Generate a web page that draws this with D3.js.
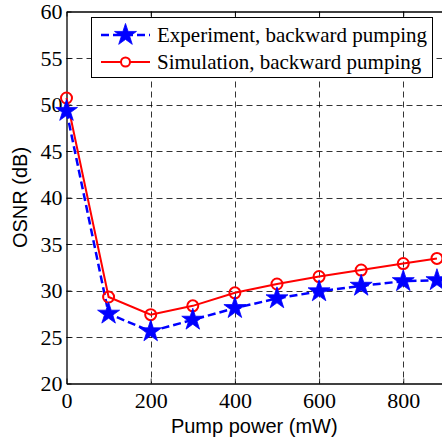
<!DOCTYPE html>
<html>
<head>
<meta charset="UTF-8">
<script src="https://cdn.jsdelivr.net/npm/d3@7"></script>
<style>
  body { margin: 0; background: #fff; }
</style>
</head>
<body>
<svg width="442" height="440"></svg>
<script>
// pump power (mW)
var power = [0, 100, 200, 300, 400, 500, 600, 700, 800, 880];
var experiment = [49.3, 27.5, 25.6, 26.85, 28.1, 29.15, 29.9, 30.5, 31.0, 31.1];
var simulation = [50.7, 29.3, 27.4, 28.35, 29.75, 30.7, 31.5, 32.2, 32.9, 33.45];
var xTicks = [0, 200, 400, 600, 800];
var yTicks = [20, 25, 30, 35, 40, 45, 50, 55, 60];

var svg = d3.select('svg');
var pLeft = 66.5, pTop = 11.5, pBottom = 383.5, pRight = 442;

var x = d3.scaleLinear().domain([0, 892]).range([pLeft, pRight]);
var y = d3.scaleLinear().domain([20, 60]).range([pBottom, pTop]);

// grid
var grid = svg.append('g').attr('stroke', '#000').attr('stroke-width', 0.8)
  .attr('stroke-dasharray', '6,4').attr('fill', 'none');
grid.selectAll('.gx').data(xTicks.slice(1)).enter().append('line')
  .attr('x1', d => Math.round(x(d)) + 0.5).attr('x2', d => Math.round(x(d)) + 0.5)
  .attr('y1', pTop).attr('y2', pBottom);
grid.selectAll('.gy').data(yTicks.slice(1, -1)).enter().append('line')
  .attr('y1', d => Math.round(y(d)) + 0.5).attr('y2', d => Math.round(y(d)) + 0.5)
  .attr('x1', pLeft).attr('x2', pRight);

// axes (ticks inward)
var xAxis = svg.append('g').attr('transform', 'translate(0,' + pBottom + ')')
  .call(d3.axisBottom(x).tickValues(xTicks).tickSizeInner(-5).tickSizeOuter(0).tickPadding(9));
var xTop = svg.append('g').attr('transform', 'translate(0,' + pTop + ')')
  .call(d3.axisTop(x).tickValues(xTicks).tickSizeInner(-5).tickSizeOuter(0).tickFormat(''));
var yAxis = svg.append('g').attr('transform', 'translate(' + pLeft + ',0)')
  .call(d3.axisLeft(y).tickValues(yTicks).tickSizeInner(-5).tickSizeOuter(0).tickPadding(4));

[xAxis, xTop, yAxis].forEach(function(a) {
  a.select('.domain').attr('stroke', '#000').attr('stroke-width', 1.3);
  a.selectAll('.tick line').attr('stroke', '#000').attr('stroke-width', 0.8);
  a.selectAll('text').attr('fill', '#000')
    .style('font-family', '"Liberation Serif", "Times New Roman", serif')
    .style('font-size', '22px');
});

// lines
var line = d3.line().x((d, i) => x(power[i])).y(d => y(d));

svg.append('path').datum(simulation)
  .attr('fill', 'none').attr('stroke', '#ff0000').attr('stroke-width', 2)
  .attr('d', line);
svg.append('path').datum(experiment)
  .attr('fill', 'none').attr('stroke', '#0000ff').attr('stroke-width', 2.5)
  .attr('stroke-dasharray', '8,4')
  .attr('d', line);

var star = d3.symbol().type(d3.symbolStar).size(150);

svg.selectAll('.circ').data(simulation).enter().append('circle')
  .attr('cx', (d, i) => x(power[i])).attr('cy', d => y(d)).attr('r', 5.5)
  .attr('fill', 'none').attr('stroke', '#ff0000').attr('stroke-width', 2);
svg.selectAll('.star').data(experiment).enter().append('path')
  .attr('d', star)
  .attr('transform', (d, i) => 'translate(' + x(power[i]) + ',' + y(d) + ')')
  .attr('fill', '#0000ff').attr('stroke', '#0000ff').attr('stroke-width', 0.8);

// axis labels
svg.append('text').attr('x', (pLeft + pRight) / 2).attr('y', 433)
  .attr('text-anchor', 'middle')
  .style('font-family', '"Liberation Sans", Arial, sans-serif').style('font-size', '20px')
  .text('Pump power (mW)');
svg.append('text').attr('transform', 'translate(27,' + (pTop + pBottom) / 2 + ') rotate(-90)')
  .attr('text-anchor', 'middle')
  .style('font-family', '"Liberation Sans", Arial, sans-serif').style('font-size', '20px')
  .text('OSNR (dB)');

// legend
var lg = svg.append('g');
lg.append('rect').attr('x', 91.5).attr('y', 17.5).attr('width', 341).attr('height', 60)
  .attr('fill', '#fff').attr('stroke', '#000').attr('stroke-width', 1);
var items = [
  { name: 'Experiment, backward pumping', color: '#0000ff', dash: '8,4', w: 2.5, mark: 'star' },
  { name: 'Simulation, backward pumping', color: '#ff0000', dash: null, w: 2, mark: 'circle' }
];
items.forEach(function(it, i) {
  var cy = 35 + i * 27;
  lg.append('line').attr('x1', 101).attr('x2', 150).attr('y1', cy).attr('y2', cy)
    .attr('stroke', it.color).attr('stroke-width', it.w)
    .attr('stroke-dasharray', it.dash);
  if (it.mark === 'star') {
    lg.append('path').attr('d', star).attr('transform', 'translate(125.5,' + cy + ')')
      .attr('fill', it.color).attr('stroke', it.color).attr('stroke-width', 0.8);
  } else {
    lg.append('circle').attr('cx', 125.5).attr('cy', cy).attr('r', 4.5)
      .attr('fill', '#fff').attr('stroke', it.color).attr('stroke-width', 2);
  }
  lg.append('text').attr('x', 157).attr('y', cy + 7)
    .style('font-family', '"Liberation Serif", "Times New Roman", serif').style('font-size', '21px')
    .text(it.name);
});
</script>
</body>
</html>
